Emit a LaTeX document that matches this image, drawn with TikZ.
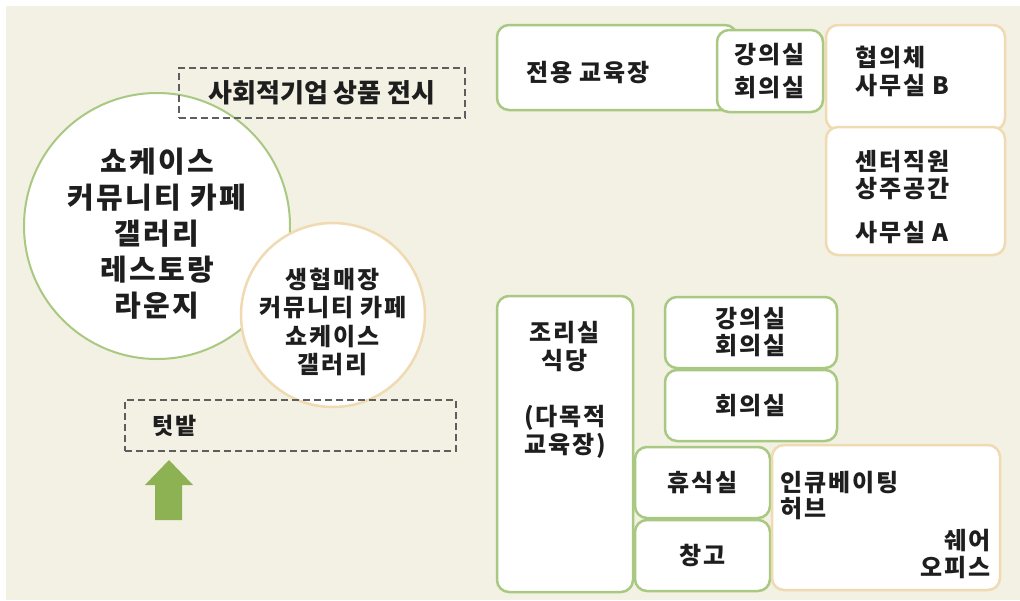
\documentclass[tikz,border=0pt]{standalone}
\usepackage{fontspec}
\setmainfont{Noto Sans CJK KR}[LetterSpace=8]
\newfontfamily\tightkr{Noto Sans CJK KR}
\usetikzlibrary{positioning}
\definecolor{paper}{HTML}{F3F0E4}
\definecolor{leaf}{HTML}{A9C982}
\definecolor{sand}{HTML}{F0DAB2}
\definecolor{sprout}{HTML}{8DB253}
\definecolor{ink}{HTML}{1E1E1E}
\definecolor{dashgray}{HTML}{5E5E5E}

\begin{document}
\begin{tikzpicture}[x=1pt, y=-1pt,
    room/.style={rectangle, draw=leaf, line width=2.5pt, fill=white, rounded corners=12pt, outer sep=0pt, inner sep=0pt, text=ink, align=center, font=\fontsize{24}{28}\selectfont\bfseries},
    office/.style={room, draw=sand},
    dashbox/.style={rectangle, draw=dashgray, dash pattern=on 7pt off 4pt, line width=1.8pt, outer sep=0pt, text=ink},
    txt/.style={inner sep=0pt, text=ink, font=\fontsize{24}{28}\selectfont\bfseries}]
    \fill[white] (0,0) rectangle (1020,600);
    \fill[paper] (6,6) rectangle (1020,600);
    \useasboundingbox (0,0) rectangle (1020,600);

    % left side
    \node[circle, draw=leaf, line width=2pt, fill=white, minimum size=266pt, inner sep=0pt] (show) at (157,226) {};
    \node[txt, align=center, font=\fontsize{29}{36}\selectfont\bfseries] at ([yshift=-8pt]show.center) {쇼케이스\\커뮤니티 카페\\갤러리\\레스토랑\\라운지};
    \node[circle, draw=sand, line width=2.5pt, fill=white, minimum size=184pt, inner sep=0pt] (coop) at (333,315) {};
    \node[txt, align=center, font=\fontsize{24}{28.5}\selectfont\bfseries] at ([yshift=-7pt]coop.center) {생협매장\\커뮤니티 카페\\쇼케이스\\갤러리};
    \node[dashbox, minimum width=286pt, minimum height=50pt, font=\fontsize{26}{30}\tightkr\bfseries] (goods) at (322,93) {사회적기업 상품 전시};
    \node[dashbox, minimum width=331pt, minimum height=51pt, inner xsep=27pt, text width=277pt, align=left, font=\fontsize{23}{27}\selectfont\bfseries] (garden) at (290.5,425.5) {텃밭};
    \fill[sprout] (155,520) -- (155,485) -- (145,485) -- (169,460) -- (193,485) -- (182,485) -- (182,520) -- cycle;

    % top right
    \node[room, minimum width=240pt, minimum height=85pt] (edu) at (617,67.5) {};
    \node[txt] at (588,73) {전용 교육장};
    \node[room, minimum width=106pt, minimum height=82pt, font=\fontsize{24}{33}\selectfont\bfseries] (lec1) at (770,71) {강의실\\회의실};
    \node[office, minimum width=179pt, minimum height=105pt] (council) at (915.5,77.5) {};
    \node[txt, anchor=north west, align=left] at (855,46) {협의체\\사무실 B};
    \node[office, minimum width=179pt, minimum height=128pt] (staff) [below=-3pt of council] {};
    \node[txt, anchor=north west, align=left, font=\fontsize{24}{27}\selectfont\bfseries] at (855,150) {센터직원\\상주공간\\[17pt]사무실 A};

    % bottom right
    \node[room, minimum width=136pt, minimum height=296pt] (cook) at (565,444) {};
    \node[txt, anchor=north, align=center] at (565,321) {조리실\\식당\\[28pt](다목적\\교육장)};
    \node[room, minimum width=172pt, minimum height=71pt, font=\fontsize{24}{27}\selectfont\bfseries] (lec2) at (751,332.5) {강의실\\회의실};
    \node[room, minimum width=172pt, minimum height=71pt] (meet) [below=2pt of lec2] {회의실};
    \node[room, minimum width=135pt, minimum height=71pt] (rest) at (702.5,482.5) {휴식실};
    \node[room, minimum width=135pt, minimum height=71pt] (store) [below=2pt of rest] {창고};
    \node[office, minimum width=228pt, minimum height=145pt] (hub) at (886,517.5) {};
    \node[txt, anchor=north west, align=left, font=\fontsize{24}{26}\selectfont\bfseries] at (780,471) {인큐베이팅\\허브};
    \node[txt, anchor=north east, align=right, font=\fontsize{24}{27}\selectfont\bfseries] at (991,529) {쉐어\\오피스};
\end{tikzpicture}
\end{document}
